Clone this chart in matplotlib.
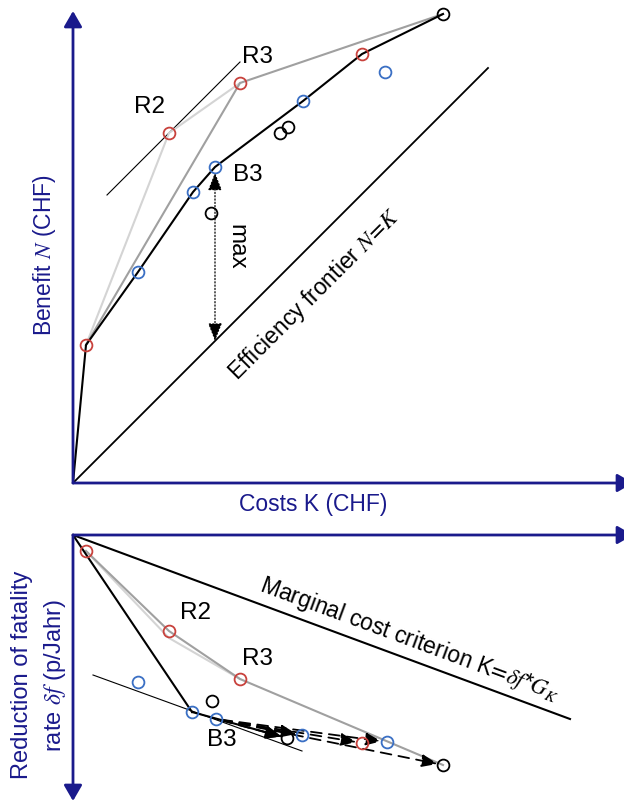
import matplotlib
matplotlib.use('Agg')
import matplotlib.pyplot as plt

plt.rcParams['font.family'] = ['Liberation Sans', 'DejaVu Sans']
plt.rcParams['mathtext.fontset'] = 'stix'

NAVY = '#1a1a8c'
RED = '#c8413c'
BLUE = '#3a6fc4'
BLK = '#000000'
GRAY = '#a0a0a0'
LGRAY = '#d4d4d4'

# ---------------- top panel: benefit N vs costs K ----------------
top_K = [2.6, 13.0, 24.0, 28.4, 27.6, 41.4, 43.0, 46.0, 57.8, 62.4, 74.0, 19.2, 33.4]
top_N = [27.6, 42.2, 58.2, 63.2, 54.0, 70.0, 71.2, 76.4, 85.8, 82.2, 93.8, 70.0, 80.0]
top_c = ['r', 'b', 'b', 'b', 'k', 'k', 'k', 'b', 'r', 'b', 'k', 'r', 'r']
top_front_idx = [0, 1, 2, 3, 7, 8, 10]      # efficient frontier (black)
top_light_idx = [0, 11, 12]                 # R2 path (light gray)
top_gray_idx = [0, 12, 10]                  # R3 path (gray)
eff_K = [0, 83]                             # efficiency frontier N = K
tan_top_K = [6.8, 33.4]
tan_top_N = [57.6, 84.2]
top_labels = {'R2': (15.4, 75.2), 'R3': (37.0, 85.2), 'B3': (35.0, 61.6)}

# ---------------- bottom panel: reduction of fatality rate ----------------
bot_K = [2.6, 19.2, 33.4, 13.0, 27.8, 23.8, 28.6, 42.8, 45.8, 57.8, 62.8, 74.0]
bot_df = [3.2, 19.2, 28.8, 29.4, 33.2, 35.4, 36.8, 40.6, 40.0, 41.6, 41.4, 46.0]
bot_c = ['r', 'r', 'r', 'b', 'k', 'b', 'b', 'k', 'b', 'r', 'b', 'k']
bot_gray_idx = [0, 1, 2, 11]
bot_light_K = [2.6, 19.2, 33.4]
bot_light_df = [3.2, 20.6, 28.8]
bot_black_idx = [5, 7]          # solid arrow from B-point to black option
bot_dash_from = 6               # B3
bot_dash_to = [7, 8, 9, 10, 11]
marg_K = [0, 99.4]
marg_df = [0, 36.8]
tan_bot_K = [4.0, 45.8]
tan_bot_df = [28.0, 43.2]
bot_labels = {'R2': (24.4, 15.6), 'R3': (37.0, 24.8), 'B3': (29.8, 41.0)}

cmap = {'r': RED, 'b': BLUE, 'k': BLK}

fig = plt.figure(figsize=(6.24, 8.0), dpi=100)
ax1 = fig.add_axes([73 / 624, 317 / 800, 551 / 624, 483 / 800])
ax2 = fig.add_axes([73 / 624, 0, 551 / 624, 265 / 800])
for ax in (ax1, ax2):
    ax.set_axis_off()
ax1.set_xlim(0, 110.2)
ax1.set_ylim(0, 96.6)
ax2.set_xlim(0, 110.2)
ax2.set_ylim(53, 0)

FS = 16.5
FSL = 17.5

def axis_arrow(ax, start, end):
    ax.annotate('', xy=end, xytext=start, annotation_clip=False,
                arrowprops=dict(arrowstyle='-|>,head_length=0.95,head_width=0.55',
                                mutation_scale=10, color=NAVY, lw=2.0,
                                shrinkA=0, shrinkB=0))

# ---- top panel ----
axis_arrow(ax1, (0, 0), (0, 94.4))
axis_arrow(ax1, (0, 0), (112.0, 0))

ax1.plot(eff_K, eff_K, color=BLK, lw=1.3, clip_on=False)
ax1.plot(tan_top_K, tan_top_N, color=BLK, lw=0.8, clip_on=False)
ax1.plot([top_K[i] for i in top_light_idx], [top_N[i] for i in top_light_idx],
         color=LGRAY, lw=1.5, clip_on=False)
ax1.plot([top_K[i] for i in top_gray_idx], [top_N[i] for i in top_gray_idx],
         color=GRAY, lw=1.5, clip_on=False)
ax1.plot([0] + [top_K[i] for i in top_front_idx], [0] + [top_N[i] for i in top_front_idx],
         color=BLK, lw=1.5, clip_on=False)

# max arrow
b3 = (top_K[3], top_N[3])
ax1.annotate('', xy=b3, xytext=(b3[0], b3[0]), annotation_clip=False,
             arrowprops=dict(arrowstyle='<|-|>,head_length=1.1,head_width=0.43',
                             mutation_scale=10, color=BLK, lw=0.9, linestyle=':',
                             shrinkA=0, shrinkB=4))
ax1.text(32.6, 47.2, 'max', rotation=-90, fontsize=FSL, ha='center', va='center')

for k, n, c in zip(top_K, top_N, top_c):
    ax1.plot(k, n, 'o', ms=8.5, mfc='none', mec=cmap[c], mew=1.3, clip_on=False, zorder=5)
for t, (x, y) in top_labels.items():
    ax1.text(x, y, t, fontsize=FSL, ha='center', va='center')

ax1.text(48.4, 37.8, r'Efficiency frontier $N\!=\!K$', rotation=45, fontsize=FS,
         ha='center', va='center', rotation_mode='anchor')
ax1.text(-5.6, 45.6, r'Benefit $N$ (CHF)', rotation=90, fontsize=FS, color=NAVY,
         ha='center', va='center', clip_on=False)
ax1.text(48.0, -4.4, 'Costs K (CHF)', fontsize=FS, color=NAVY,
         ha='center', va='center', clip_on=False)

# ---- bottom panel ----
axis_arrow(ax2, (0, 0), (0, 53.2))
axis_arrow(ax2, (0, 0), (112.0, 0))

ax2.plot(marg_K, marg_df, color=BLK, lw=1.5, clip_on=False)
ax2.plot(tan_bot_K, tan_bot_df, color=BLK, lw=0.8, clip_on=False)
ax2.plot(bot_light_K, bot_light_df, color=LGRAY, lw=1.5, clip_on=False)
ax2.plot([bot_K[i] for i in bot_gray_idx], [bot_df[i] for i in bot_gray_idx],
         color=GRAY, lw=1.5, clip_on=False)
ax2.plot([0, bot_K[bot_black_idx[0]]], [0, bot_df[bot_black_idx[0]]],
         color=BLK, lw=1.5, clip_on=False)
ax2.annotate('', xy=(bot_K[bot_black_idx[1]], bot_df[bot_black_idx[1]]),
             xytext=(bot_K[bot_black_idx[0]], bot_df[bot_black_idx[0]]),
             arrowprops=dict(arrowstyle='-|>,head_length=0.95,head_width=0.38',
                             mutation_scale=10, color=BLK, lw=1.5,
                             shrinkA=0, shrinkB=4))
for j in bot_dash_to:
    ax2.annotate('', xy=(bot_K[j], bot_df[j]),
                 xytext=(bot_K[bot_dash_from], bot_df[bot_dash_from]),
                 arrowprops=dict(arrowstyle='-|>,head_length=0.95,head_width=0.38',
                                 mutation_scale=10, color=BLK, lw=1.3,
                                 linestyle=(0, (6, 4)), shrinkA=4, shrinkB=4))

for k, d, c in zip(bot_K, bot_df, bot_c):
    ax2.plot(k, d, 'o', ms=8.5, mfc='none', mec=cmap[c], mew=1.3, clip_on=False, zorder=5)
for t, (x, y) in bot_labels.items():
    ax2.text(x, y, t, fontsize=FSL, ha='center', va='center')

ax2.text(67.4, 20.8, r'Marginal cost criterion K$\!=\!\delta f$*$G_K$', rotation=-20.3,
         fontsize=FS, ha='center', va='center', rotation_mode='anchor')
ax2.text(-10.2, 28.0, 'Reduction of fatality', rotation=90, fontsize=17, color=NAVY,
         ha='center', va='center', clip_on=False)
ax2.text(-3.6, 28.0, r'rate $\delta f$ (p/Jahr)', rotation=90, fontsize=17, color=NAVY,
         ha='center', va='center', clip_on=False)

fig.savefig('out.png', dpi=100)
